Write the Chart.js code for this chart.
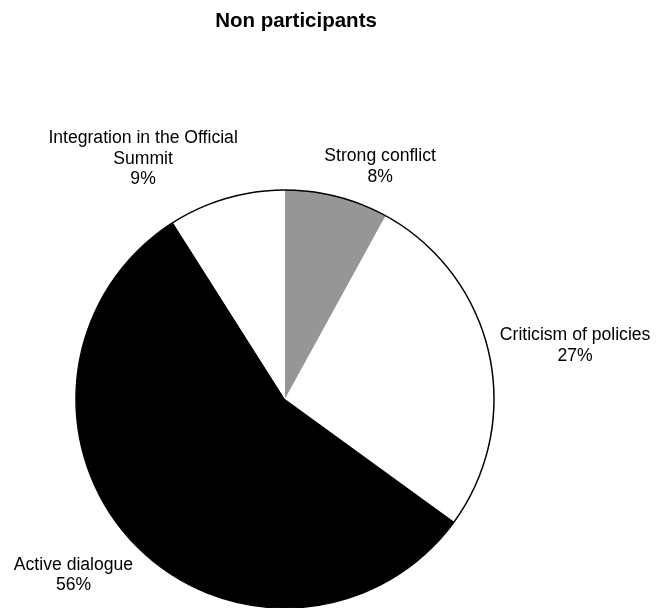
<!DOCTYPE html>
<html>
<head>
<meta charset="utf-8">
<script src="https://cdn.jsdelivr.net/npm/chart.js@4/dist/chart.umd.min.js"></script>
<style>
  body { margin: 0; background: #fff; }
</style>
</head>
<body>
<canvas id="chart" width="657" height="608"></canvas>
<script>
// data
const categories = ['Strong conflict', 'Criticism of policies', 'Active dialogue', ['Integration in the Official', 'Summit']];
const shares = [8, 27, 56, 9];
const sliceColors = ['#969696', '#ffffff', '#000000', '#ffffff'];
const chartTitle = 'Non participants';

// where each label block sits, relative to pie centre, in radii
const labelSpots = [[0.455, -1.112], [1.388, -0.256], [-1.012, 0.842], [-0.679, -1.148]];

const FONT = '"Liberation Sans", Arial, sans-serif';

const pieText = {
  id: 'pieText',
  afterDatasetsDraw(chart) {
    const ctx = chart.ctx;
    const meta = chart.getDatasetMeta(0);
    const arc0 = meta.data[0];
    const cx = arc0.x, cy = arc0.y, r = arc0.outerRadius;

    ctx.save();
    // outline round the pie
    ctx.beginPath();
    ctx.arc(cx, cy, r, 0, Math.PI * 2);
    ctx.lineWidth = 1.5;
    ctx.strokeStyle = '#000';
    ctx.stroke();

    // title
    ctx.fillStyle = '#000';
    ctx.textAlign = 'center';
    ctx.textBaseline = 'middle';
    ctx.font = 'bold 20.5px ' + FONT;
    ctx.fillText(chartTitle, 296, 21);

    // slice labels
    ctx.font = '17.6px ' + FONT;
    const lh = 20.5;
    meta.data.forEach((arc, i) => {
      let lines = categories[i];
      if (!Array.isArray(lines)) lines = [lines];
      lines = lines.concat([shares[i] + '%']);
      const bx = cx + labelSpots[i][0] * r;
      const by = cy + labelSpots[i][1] * r;
      const top = by - (lines.length - 1) * lh / 2;
      lines.forEach((t, j) => ctx.fillText(t, bx, top + j * lh));
    });
    ctx.restore();
  }
};

new Chart(document.getElementById('chart'), {
  type: 'pie',
  data: {
    labels: categories,
    datasets: [{
      data: shares,
      backgroundColor: sliceColors,
      borderWidth: 0
    }]
  },
  options: {
    responsive: false,
    devicePixelRatio: 1,
    animation: false,
    layout: { padding: { left: 76, right: 163, top: 190, bottom: 0 } },
    plugins: {
      legend: { display: false },
      title: { display: false },
      tooltip: { enabled: false }
    }
  },
  plugins: [pieText]
});
</script>
</body>
</html>
